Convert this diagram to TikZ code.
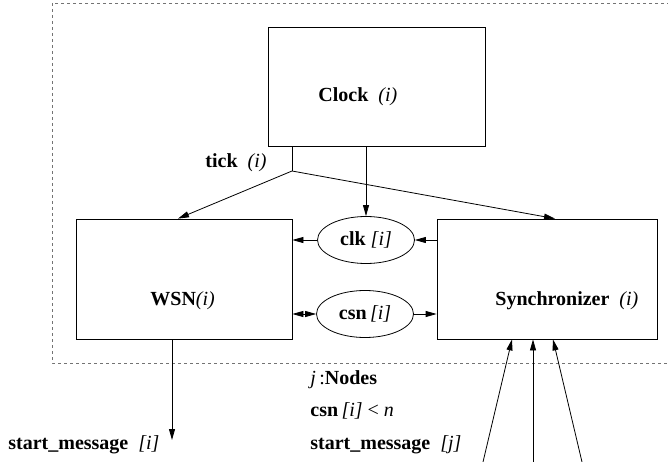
\documentclass[tikz,border=0pt]{standalone}
\usepackage{fontspec}
\setmainfont{Liberation Serif}
\usetikzlibrary{arrows.meta,shapes.geometric}

\begin{document}
\begin{tikzpicture}[x=1pt,y=-1pt,line width=0.8pt,
    >={Triangle[length=11pt,width=6pt]},
    every node/.style={font=\fontsize{20}{23}\selectfont},
    box/.style={draw,rectangle,minimum width=#1,minimum height=120pt,inner sep=0pt},
    chan/.style={draw,ellipse,minimum width=97pt,minimum height=47pt,inner sep=0pt},
    txt/.style={anchor=base west,inner sep=0pt}]
  \useasboundingbox (0,0) rectangle (668,462);
  \clip (0,0) rectangle (668,462);
  % process boundary
  \draw[black!55,dash pattern=on 3pt off 3pt] (52,3) rectangle (700,363);
  % processes
  \node[box=217pt,minimum height=119pt] (clock) at (376.5,86.5) {};
  \node[box=216pt] (wsn) at (184,279) {};
  \node[box=220pt] (sync) at (547,279) {};
  \node[txt] (clocktxt) at (318,102) {\textbf{Clock}~~\textit{(i)}};
  \node[txt] (wsntxt) at (150,305) {\textbf{WSN}\textit{(i)}};
  \node[txt] (synctxt) at (495,305) {\textbf{Synchronizer}~~\textit{(i)}};
  % shared variables
  \node[chan] (clk) at (366,240) {\textbf{clk} \textit{[i]}};
  \node[chan] (csn) at (365,314) {\textbf{csn}\,\textit{[i]}};
  % tick
  \coordinate (tick) at (292,171);
  \node[txt] (ticktxt) at (205,168) {\textbf{tick}~~\textit{(i)}};
  \draw (clock.south -| tick) -- (tick);
  \draw[->] (tick) -- ([xshift=-6pt]wsn.north);
  \draw[->] (tick) -- ([xshift=8pt]sync.north);
  \draw[->] (clock.south -| clk.north) -- (clk.north);
  % variable access
  \draw[->] (clk.west) -- (clk.west -| wsn.east);
  \draw[->] (clk.east -| sync.west) -- (clk.east);
  \draw[<->] (csn.west -| wsn.east) -- (csn.west);
  \draw[->] (csn.east) -- (csn.east -| sync.west);
  % outgoing message
  \coordinate (out) at (172,440);
  \draw[->] (wsn.south -| out) -- (out);
  \node[txt] (starti) at (8,449) {\textbf{start\_message}~~\textit{[i]}};
  % incoming messages
  \coordinate (in1) at (483,462);
  \coordinate (in2) at (533,462);
  \coordinate (in3) at (582,462);
  \draw[->] (in1) -- ([xshift=-35pt]sync.south);
  \draw[->] (in2) -- ([xshift=-14pt]sync.south);
  \draw[->] (in3) -- ([xshift=6pt]sync.south);
  \node[txt] (nodestxt) at (310,384) {\textit{j}\,:\textbf{Nodes}};
  \node[txt] (guardtxt) at (310,416) {\textbf{csn}\,\textit{[i]} < \textit{n}};
  \node[txt] (startj) at (310,449) {\textbf{start\_message}~~\textit{[j]}};
\end{tikzpicture}
\end{document}
